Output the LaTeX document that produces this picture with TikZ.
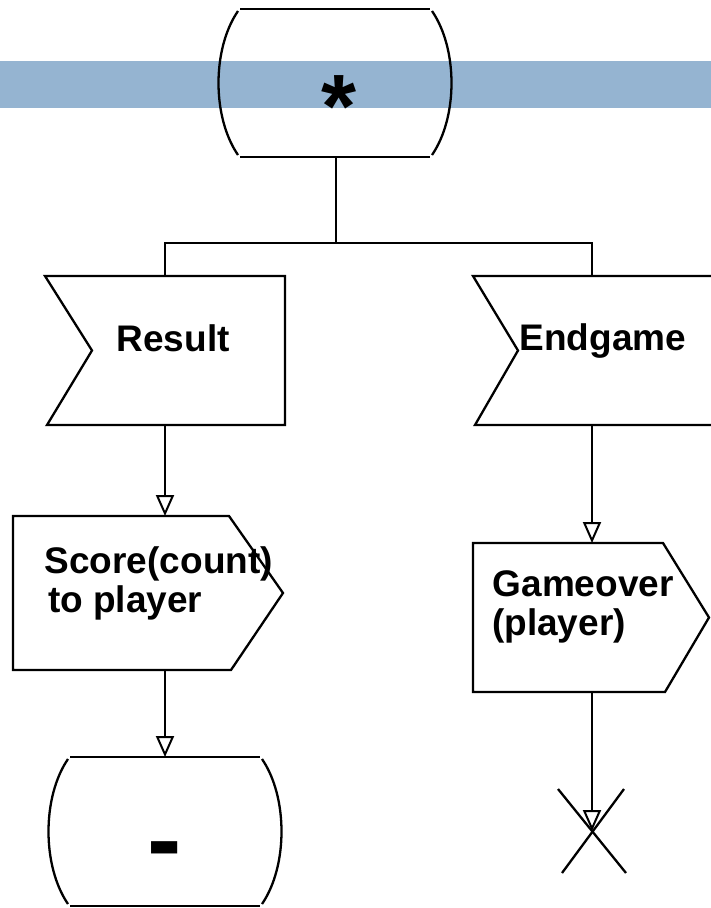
\documentclass[tikz,border=0pt]{standalone}
\usepackage{fontspec}
\setmainfont{Liberation Sans}
\usetikzlibrary{arrows.meta}

\definecolor{laneblue}{RGB}{149,180,209}

\tikzset{
  line/.style={line width=2.3pt, black},
  flow/.style={line, -{Triangle[open, fill=white, width=18pt, length=21pt, line width=2pt]}},
  area/.style 2 args={draw=none, inner sep=0pt, outer sep=0pt,
    minimum width=#1pt, minimum height=#2pt},
  lbl/.style={font=\fontsize{37}{40}\selectfont\bfseries, inner sep=0pt, anchor=base west},
  sym/.style={font=\fontsize{#1}{#1}\selectfont\bfseries, inner sep=0pt, anchor=base},
}

% state: straight top and bottom edges, curved sides
\newcommand\statebox[1]{%
  \draw[line] ([xshift=-95pt]#1.north) -- ([xshift=95pt]#1.north);
  \draw[line] ([xshift=-95pt]#1.south) -- ([xshift=95pt]#1.south);
  \draw[line] ([xshift=-97pt,yshift=-2pt]#1.north)
    .. controls ([xshift=-123pt,yshift=-40pt]#1.north) and ([xshift=-123pt,yshift=40pt]#1.south)
    .. ([xshift=-97pt,yshift=2pt]#1.south);
  \draw[line] ([xshift=97pt,yshift=-2pt]#1.north)
    .. controls ([xshift=123pt,yshift=-40pt]#1.north) and ([xshift=123pt,yshift=40pt]#1.south)
    .. ([xshift=97pt,yshift=2pt]#1.south);
}
% input signal: rectangle with a notch on the left
\newcommand\inputbox[2]{%
  \draw[line, line join=miter] (#1.north west) -- (#1.north east) -- (#1.south east)
    -- ([xshift=2pt]#1.south west) -- ([xshift=#2pt]#1.west) -- cycle;
}
% output signal: rectangle with a point on the right
\newcommand\outputbox[2]{%
  \draw[line, line join=miter] (#1.north west) -- ([xshift=-#2pt]#1.north east) -- (#1.east)
    -- ([xshift=-#2pt+2pt]#1.south east) -- (#1.south west) -- cycle;
}

\begin{document}
\begin{tikzpicture}[x=1pt, y=-1pt]
  \useasboundingbox (0,0) rectangle (711,908);
  \clip (0,0) rectangle (711,908);

  % swimlane band behind the start state
  \fill[laneblue] (0,61) rectangle (711,108);

  % shapes
  \node[area={232}{148}] (start) at (335,83) {};
  \node[area={240}{149}] (result) at (165,350.5) {};
  \node[area={240}{149}] (endgame) at (593,350.5) {};
  \node[area={270}{154}] (score) at (148,593) {};
  \node[area={236}{149}] (gameover) at (591,617.5) {};
  \node[area={232}{149}] (finish) at (165,831.5) {};
  \coordinate (stop) at (592,831);
  \coordinate (fork) at (336,243);

  \statebox{start}
  \inputbox{result}{47}
  \inputbox{endgame}{45}
  \outputbox{score}{54}
  \outputbox{gameover}{46}
  \statebox{finish}

  % labels
  \node[sym=90] (startlbl) at (339.5,137) {*};
  \node[lbl] (resultlbl) at (116.5,351.5) {Result};
  \node[lbl] (endgamelbl) at (519.5,350.5) {Endgame};
  \node[lbl] (scorelblA) at (44.5,573.5) {Score(count)};
  \node[lbl] (scorelblB) at (48,612) {to player};
  \node[lbl] (gameoverlblA) at (492.5,596.5) {Gameover};
  \node[lbl] (gameoverlblB) at (492,635) {(player)};
  \node[sym=103] (finishlbl) at (164.5,874) {-};

  % stop symbol
  \draw[line] (stop) +(-34,-42) -- +(34,42);
  \draw[line] (stop) +(32,-42) -- +(-30,42);

  % connectors
  \draw[line] (start.south -| fork) -- (fork);
  \draw[line] (result.north) |- (fork) -| (endgame.north -| stop);
  \draw[flow] (result.south) -- (result.south |- score.north);
  \draw[flow] (score.south -| result.south) -- (finish.north);
  \draw[flow] (endgame.south -| stop) -- (gameover.north -| stop);
  \draw[flow] (gameover.south -| stop) -- (stop);
\end{tikzpicture}
\end{document}
